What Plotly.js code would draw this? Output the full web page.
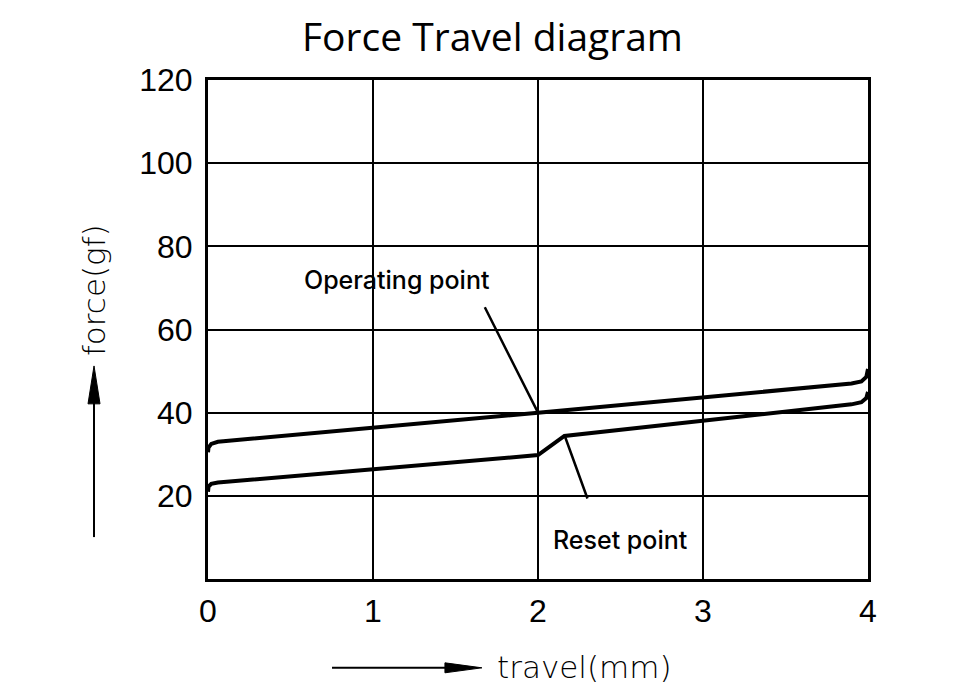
<!DOCTYPE html>
<html>
<head>
<meta charset="utf-8">
<script src="https://cdn.plot.ly/plotly-3.0.1.min.js"></script>
<style>html,body{margin:0;padding:0;background:#fff;}#chart{width:960px;height:700px;}</style>
</head>
<body>
<div id="chart"></div>
<script>
// Operating (press) curve
const travelOperate = [0, 0.003, 0.02, 0.06, 2, 3.9, 3.96, 3.99, 4];
const forceOperate  = [30.5, 31.6, 32.5, 33, 40, 47, 47.5, 48.6, 50.5];
// Reset (release) curve
const travelReset = [0, 0.003, 0.02, 0.06, 2, 2.16, 3.9, 3.96, 3.99, 4];
const forceReset  = [21, 22.2, 22.9, 23.2, 29.8, 34.4, 42, 42.5, 43.5, 45];

const xTicks = [0, 1, 2, 3, 4];
const yTicks = [0, 20, 40, 60, 80, 100, 120];
const yTickText = ['', '20', '40', '60', '80', '100', '120'];

const opPoint = {x: 2, y: 40, tailX: 1.673, tailY: 65.7, labelX: 1.145, labelY: 71.9, text: 'Operating point'};
const resetPoint = {x: 2.164, y: 34.2, tailX: 2.303, tailY: 19.0, labelX: 2.5, labelY: 9.4, text: 'Reset point'};

const lineStyle = {color: '#000', width: 4};
const traces = [
  {x: travelOperate, y: forceOperate, mode: 'lines', line: lineStyle, hoverinfo: 'skip'},
  {x: travelReset, y: forceReset, mode: 'lines', line: lineStyle, hoverinfo: 'skip'}
];

const labelFont = {family: 'Inter, "Liberation Sans", sans-serif', size: 25, color: '#000', weight: 500};
const axisTitleFont = {family: '"DejaVu Sans ExtraLight", "DejaVu Sans", sans-serif', size: 31, color: '#000', weight: 200};

const layout = {
  width: 960, height: 700,
  paper_bgcolor: '#fff', plot_bgcolor: '#fff',
  margin: {l: 208, r: 92, t: 80, b: 121},
  showlegend: false,
  title: {text: 'Force Travel diagram', x: 0.513, xanchor: 'center', y: 0.947, yanchor: 'middle',
          font: {family: '"Open Sans", "Noto Sans", sans-serif', size: 39, color: '#000', weight: 500}},
  xaxis: {range: [0, 4], tickvals: xTicks, ticktext: xTicks.map(String),
          showgrid: true, gridcolor: '#000', gridwidth: 2,
          showline: true, linecolor: '#000', linewidth: 3, mirror: true,
          zeroline: false, ticks: '', ticklen: 0, ticklabelstandoff: 2,
          tickfont: {family: '"Liberation Sans", Arial, sans-serif', size: 32, color: '#000'}},
  yaxis: {range: [0, 120], tickvals: yTicks, ticktext: yTickText,
          showgrid: true, gridcolor: '#000', gridwidth: 2,
          showline: true, linecolor: '#000', linewidth: 3, mirror: true,
          zeroline: false, ticks: '', ticklen: 0, ticklabelstandoff: 6,
          tickfont: {family: '"Liberation Sans", Arial, sans-serif', size: 32, color: '#000'}},
  annotations: [
    {x: opPoint.labelX, y: opPoint.labelY, xref: 'x', yref: 'y', text: opPoint.text, showarrow: false, font: labelFont},
    {x: opPoint.x, y: opPoint.y, xref: 'x', yref: 'y', ax: opPoint.tailX, ay: opPoint.tailY, axref: 'x', ayref: 'y',
     text: '', showarrow: true, arrowhead: 0, arrowwidth: 2.5, arrowcolor: '#000', standoff: 0, startstandoff: 0},
    {x: resetPoint.labelX, y: resetPoint.labelY, xref: 'x', yref: 'y', text: resetPoint.text, showarrow: false, font: labelFont},
    {x: resetPoint.x, y: resetPoint.y, xref: 'x', yref: 'y', ax: resetPoint.tailX, ay: resetPoint.tailY, axref: 'x', ayref: 'y',
     text: '', showarrow: true, arrowhead: 0, arrowwidth: 2.5, arrowcolor: '#000', standoff: 0, startstandoff: 0},
    {x: 0.570, y: -0.176, xref: 'paper', yref: 'paper', xanchor: 'center', yanchor: 'middle', text: 'travel(mm)', showarrow: false, font: axisTitleFont},
    {x: -0.1727, y: 0.579, xref: 'paper', yref: 'paper', xanchor: 'center', yanchor: 'middle', text: 'force(gf)', textangle: -90, showarrow: false, font: axisTitleFont}
  ],
  shapes: [
    {type: 'line', xref: 'paper', yref: 'paper', x0: 0.1879, x1: 0.37, y0: -0.178, y1: -0.178, line: {color: '#000', width: 2}},
    {type: 'path', xref: 'paper', yref: 'paper', path: 'M 0.359 -0.168 L 0.415 -0.178 L 0.359 -0.188 Z', fillcolor: '#000', line: {color: '#000', width: 1}},
    {type: 'line', xref: 'paper', yref: 'paper', x0: -0.1727, x1: -0.1727, y0: 0.084, y1: 0.36, line: {color: '#000', width: 2}},
    {type: 'path', xref: 'paper', yref: 'paper', path: 'M -0.1818 0.351 L -0.1727 0.427 L -0.1636 0.351 Z', fillcolor: '#000', line: {color: '#000', width: 1}}
  ]
};

Plotly.newPlot('chart', traces, layout, {staticPlot: true, displayModeBar: false});
</script>
</body>
</html>
